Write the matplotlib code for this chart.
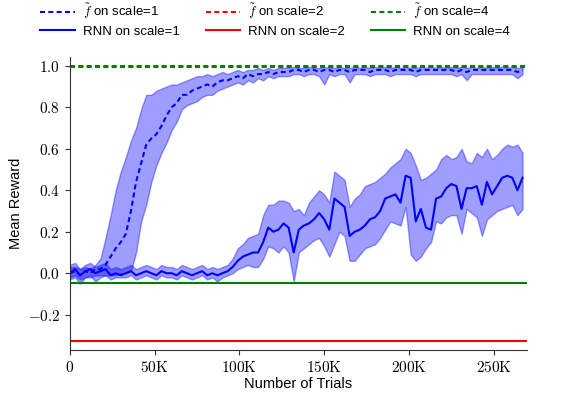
import matplotlib
matplotlib.use("Agg")
import matplotlib.pyplot as plt
from matplotlib.ticker import FuncFormatter

plt.rcParams["mathtext.fontset"] = "cm"
plt.rcParams["font.family"] = ["Liberation Sans", "DejaVu Sans"]

# Trials in thousands
trials_k = [0, 3, 6, 9, 12, 15, 18, 21, 24, 27, 30, 33, 36, 39, 42, 45, 48, 51,
            54, 57, 60, 63, 66, 69, 72, 75, 78, 81, 84, 87, 90, 93, 96, 99, 102,
            105, 108, 111, 114, 117, 120, 123, 126, 129, 132, 135, 138, 141, 144,
            147, 150, 153, 156, 159, 162, 165, 168, 171, 174, 177, 180, 183, 186,
            189, 192, 195, 198, 201, 204, 207, 210, 213, 216, 219, 222, 225, 228,
            231, 234, 237, 240, 243, 246, 249, 252, 255, 258, 261, 264, 267]

# f~ on scale=1: mean, lower, upper
ft1_mean = [0.00, 0.01, -0.01, 0.01, 0.00, 0.02, 0.02, 0.04, 0.08, 0.12, 0.15, 0.19,
            0.30, 0.44, 0.53, 0.62, 0.65, 0.67, 0.71, 0.76, 0.80, 0.82, 0.86, 0.86,
            0.88, 0.89, 0.90, 0.91, 0.90, 0.92, 0.93, 0.93, 0.94, 0.95, 0.94, 0.96,
            0.95, 0.96, 0.96, 0.97, 0.96, 0.97, 0.97, 0.97, 0.98, 0.98, 0.97, 0.98,
            0.98, 0.97, 0.98, 0.98, 0.97, 0.98, 0.98, 0.97, 0.98, 0.98, 0.98, 0.97,
            0.98, 0.98, 0.98, 0.97, 0.98, 0.98, 0.98, 0.98, 0.97, 0.98, 0.98, 0.98,
            0.98, 0.98, 0.98, 0.98, 0.97, 0.98, 0.97, 0.98, 0.98, 0.98, 0.98, 0.98,
            0.98, 0.98, 0.98, 0.98, 0.97, 0.98]
ft1_low = [-0.02, -0.01, -0.03, -0.02, -0.02, -0.01, -0.01, -0.01, -0.01, -0.01,
           0.00, 0.00, 0.01, 0.10, 0.25, 0.33, 0.44, 0.52, 0.58, 0.63, 0.69, 0.73,
           0.79, 0.81, 0.82, 0.83, 0.85, 0.86, 0.86, 0.88, 0.89, 0.90, 0.91, 0.92,
           0.91, 0.93, 0.92, 0.94, 0.93, 0.95, 0.94, 0.95, 0.95, 0.95, 0.96, 0.96,
           0.95, 0.96, 0.96, 0.95, 0.91, 0.96, 0.95, 0.96, 0.96, 0.92, 0.96, 0.96,
           0.96, 0.95, 0.96, 0.96, 0.96, 0.95, 0.96, 0.96, 0.96, 0.96, 0.95, 0.96,
           0.96, 0.96, 0.96, 0.96, 0.96, 0.96, 0.95, 0.96, 0.93, 0.96, 0.96, 0.96,
           0.96, 0.96, 0.96, 0.96, 0.96, 0.96, 0.94, 0.96]
ft1_high = [0.03, 0.03, 0.02, 0.03, 0.02, 0.04, 0.07, 0.17, 0.28, 0.40, 0.49, 0.56,
            0.64, 0.70, 0.79, 0.86, 0.86, 0.88, 0.89, 0.90, 0.91, 0.91, 0.92, 0.93,
            0.94, 0.95, 0.95, 0.96, 0.95, 0.96, 0.97, 0.96, 0.97, 0.98, 0.97, 0.98,
            0.98, 0.99, 0.98, 0.99, 0.98, 0.99, 0.99, 0.99, 0.995, 0.99, 0.99, 0.995,
            0.99, 0.99, 0.995, 0.99, 0.99, 0.995, 0.99, 0.99, 0.995, 0.99, 0.995, 0.99,
            0.995, 0.99, 0.995, 0.99, 0.995, 0.99, 0.995, 0.99, 0.99, 0.995, 0.99, 0.995,
            0.99, 0.995, 0.99, 0.995, 0.99, 0.995, 0.99, 0.995, 0.99, 0.995, 0.99, 0.995,
            0.99, 0.995, 0.99, 0.995, 0.99, 0.995]

# RNN on scale=1: mean, lower, upper
rnn1_mean = [0.00, 0.02, -0.01, 0.01, 0.02, 0.00, 0.01, 0.02, -0.01, 0.00, -0.01,
             0.00, 0.01, -0.01, 0.00, 0.01, 0.00, -0.01, 0.01, 0.00, 0.00, -0.01,
             0.01, 0.00, -0.01, 0.00, 0.01, -0.01, 0.00, -0.01, 0.00, 0.01, 0.03,
             0.06, 0.08, 0.09, 0.10, 0.10, 0.15, 0.22, 0.20, 0.21, 0.24, 0.22, 0.10,
             0.21, 0.23, 0.24, 0.26, 0.29, 0.26, 0.21, 0.36, 0.34, 0.32, 0.18, 0.20,
             0.21, 0.23, 0.26, 0.27, 0.30, 0.36, 0.37, 0.38, 0.34, 0.47, 0.46, 0.25,
             0.31, 0.22, 0.21, 0.36, 0.37, 0.41, 0.43, 0.42, 0.31, 0.41, 0.41, 0.42,
             0.33, 0.44, 0.38, 0.42, 0.46, 0.47, 0.46, 0.40, 0.46]
rnn1_low = [-0.03, -0.02, -0.05, -0.02, -0.01, -0.04, -0.02, -0.01, -0.03, -0.02,
            -0.02, -0.02, -0.01, -0.03, -0.02, -0.01, -0.02, -0.03, -0.01, -0.02,
            -0.02, -0.03, -0.01, -0.02, -0.03, -0.02, -0.01, -0.03, -0.02, -0.04,
            -0.02, -0.01, 0.00, 0.02, 0.03, 0.04, 0.03, 0.03, 0.07, 0.13, 0.12, 0.10,
            0.13, 0.10, -0.04, 0.10, 0.12, 0.14, 0.16, 0.17, 0.13, 0.08, 0.14, 0.20,
            0.18, 0.06, 0.06, 0.09, 0.12, 0.13, 0.14, 0.17, 0.21, 0.25, 0.24, 0.23,
            0.32, 0.09, 0.06, 0.08, 0.12, 0.15, 0.25, 0.24, 0.27, 0.28, 0.28, 0.19,
            0.31, 0.29, 0.27, 0.18, 0.26, 0.28, 0.30, 0.31, 0.32, 0.33, 0.28, 0.31]
rnn1_high = [0.04, 0.05, 0.02, 0.04, 0.05, 0.03, 0.04, 0.05, 0.02, 0.03, 0.02, 0.03,
             0.04, 0.02, 0.03, 0.04, 0.03, 0.02, 0.04, 0.03, 0.03, 0.02, 0.04, 0.03,
             0.02, 0.03, 0.04, 0.02, 0.03, 0.02, 0.03, 0.04, 0.07, 0.12, 0.14, 0.17,
             0.18, 0.19, 0.28, 0.33, 0.33, 0.35, 0.35, 0.34, 0.30, 0.31, 0.28, 0.34,
             0.37, 0.40, 0.38, 0.34, 0.49, 0.47, 0.45, 0.32, 0.36, 0.38, 0.42, 0.43,
             0.44, 0.46, 0.48, 0.51, 0.53, 0.55, 0.60, 0.58, 0.52, 0.45, 0.46, 0.48,
             0.50, 0.55, 0.57, 0.55, 0.56, 0.60, 0.54, 0.53, 0.58, 0.56, 0.60, 0.55,
             0.57, 0.60, 0.62, 0.61, 0.62, 0.58]

# flat reference levels
ft2_level = 1.0
ft4_level = 0.996
rnn2_level = -0.328
rnn4_level = -0.045

trials = [k * 1000 for k in trials_k]
x_ends = [trials[0], trials[-1] + 3000]
dash = (0, (2.4, 1.6))

fig = plt.figure(figsize=(5.64, 3.95), dpi=100)
ax = fig.add_axes([0.124, 0.114, 0.810, 0.742])

ax.fill_between(trials, ft1_low, ft1_high, color="blue", alpha=0.38, lw=1)
ax.fill_between(trials, rnn1_low, rnn1_high, color="blue", alpha=0.38, lw=1)

h_ft1, = ax.plot(trials, ft1_mean, linestyle=dash, color="blue", lw=1.5)
h_r1, = ax.plot(trials, rnn1_mean, "-", color="blue", lw=1.5)
h_ft2, = ax.plot(x_ends, [ft2_level] * 2, linestyle=dash, color="red", lw=1.5)
h_r2, = ax.plot(x_ends, [rnn2_level] * 2, "-", color="red", lw=1.5)
h_ft4, = ax.plot(x_ends, [ft4_level] * 2, linestyle=dash, color="green", lw=1.5)
h_r4, = ax.plot(x_ends, [rnn4_level] * 2, "-", color="green", lw=1.5)

ax.set_xlim(0, 269500)
ax.set_ylim(-0.37, 1.043)
ax.set_xticks([0, 50000, 100000, 150000, 200000, 250000])
ax.set_yticks([-0.2, 0.0, 0.2, 0.4, 0.6, 0.8, 1.0])


def fmt_x(v, pos):
    if v == 0:
        return r"$0$"
    return r"$\mathrm{%dK}$" % int(v / 1000)


def fmt_y(v, pos):
    return r"$%.1f$" % v


ax.xaxis.set_major_formatter(FuncFormatter(fmt_x))
ax.yaxis.set_major_formatter(FuncFormatter(fmt_y))
ax.tick_params(labelsize=11, length=3.5, color="#333333")
for side in ("top", "right"):
    ax.spines[side].set_visible(False)
for side in ("left", "bottom"):
    ax.spines[side].set_color("#333333")

ax.set_xlabel("Number of Trials", fontsize=10.5, labelpad=2)
ax.set_ylabel("Mean Reward", fontsize=10.5, labelpad=3)

handles = [h_ft1, h_r1, h_ft2, h_r2, h_ft4, h_r4]
labels = [r"$\tilde{f}$ on scale=1", "RNN on scale=1",
          r"$\tilde{f}$ on scale=2", "RNN on scale=2",
          r"$\tilde{f}$ on scale=4", "RNN on scale=4"]
fig.legend(handles, labels, loc="upper center", bbox_to_anchor=(0.488, 1.025),
           ncol=3, frameon=False, fontsize=9.5, handlelength=2.6,
           handletextpad=0.6, columnspacing=2.0, labelspacing=0.3)

fig.savefig("out.png", dpi=100)
